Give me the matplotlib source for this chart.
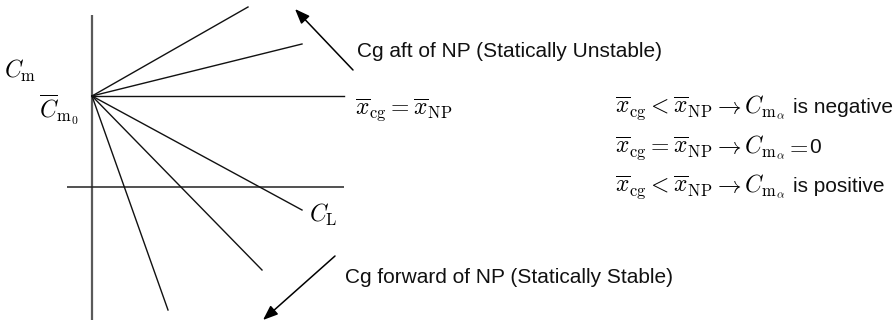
import matplotlib
matplotlib.use("Agg")
import matplotlib.pyplot as plt

plt.rcParams['mathtext.fontset'] = 'cm'
plt.rcParams['font.family'] = ['Liberation Sans', 'DejaVu Sans']

# Diagram geometry (pixel-like coordinates, y downward)
origin = (92, 96)
line_end_x = [248, 302, 344, 302, 262, 168]
line_end_y = [7, 44, 96, 210, 270, 310]
vaxis_x = [92, 92]
vaxis_y = [15, 320]
haxis_x = [67, 344]
haxis_y = [187, 187]
arrow_up = ((353, 70), (295, 9))
arrow_down = ((335, 256), (263, 320))

fig = plt.figure(figsize=(8.95, 3.21), dpi=100)
ax = fig.add_axes([0, 0, 1, 1])
ax.set_xlim(0, 895)
ax.set_ylim(321, 0)
ax.axis('off')

ax.plot(vaxis_x, vaxis_y, color='#5a5a5a', lw=1.6, solid_capstyle='butt')
ax.plot(haxis_x, haxis_y, color='#222222', lw=1.1, solid_capstyle='butt')
for ex, ey in zip(line_end_x, line_end_y):
    ax.plot([origin[0], ex], [origin[1], ey], color='#111111', lw=1.0)

for (tail, head) in (arrow_up, arrow_down):
    ax.annotate('', xy=head, xytext=tail,
                arrowprops=dict(arrowstyle='-|>,head_length=0.9,head_width=0.35',
                                color='black', lw=1.1, shrinkA=0, shrinkB=0))

ax.text(4, 78, r'$C_\mathrm{m}$', fontsize=17, va='baseline', ha='left')
ax.text(39, 118, r'$\overline{C}_{\mathrm{m}_0}$', fontsize=17, va='baseline', ha='left')
ax.text(357, 57, 'Cg aft of NP (Statically Unstable)', fontsize=15, va='baseline', ha='left', color='#111111')
ax.text(355, 115, r'$\overline{x}_\mathrm{cg} = \overline{x}_\mathrm{NP}$', fontsize=17, va='baseline', ha='left')
ax.text(309, 222, r'$C_\mathrm{L}$', fontsize=17, va='baseline', ha='left')
ax.text(345, 283, 'Cg forward of NP (Statically Stable)', fontsize=15, va='baseline', ha='left', color='#111111')

rule_math = [
    r'$\overline{x}_\mathrm{cg} < \overline{x}_\mathrm{NP} \rightarrow C_{\mathrm{m}_\alpha}$',
    r'$\overline{x}_\mathrm{cg} = \overline{x}_\mathrm{NP} \rightarrow C_{\mathrm{m}_\alpha}$',
    r'$\overline{x}_\mathrm{cg} < \overline{x}_\mathrm{NP} \rightarrow C_{\mathrm{m}_\alpha}$',
]
rule_text = ['is negative', None, 'is positive']
rule_base = [113, 153, 192]
for m, t, y in zip(rule_math, rule_text, rule_base):
    ax.text(615, y, m, fontsize=17, va='baseline', ha='left')
    if t is not None:
        ax.text(793, y, t, fontsize=15, va='baseline', ha='left', color='#111111')
    else:
        ax.text(785, y, r'$=$', fontsize=17, va='baseline', ha='left')
        ax.text(809, y, '0', fontsize=15, va='baseline', ha='left', color='#111111')

fig.savefig('out.png', dpi=100)
